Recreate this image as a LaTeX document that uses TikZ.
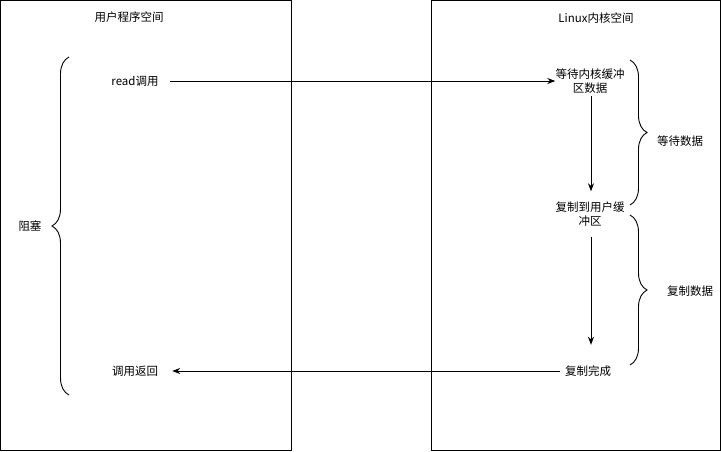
\documentclass[tikz,border=0pt]{standalone}
\usepackage{fontspec}
\setmainfont{Noto Sans CJK SC}
\usetikzlibrary{arrows.meta,decorations.pathreplacing}

\begin{document}
\begin{tikzpicture}[x=1pt,y=-1pt,
		label text/.style={font=\fontsize{11.5}{14}\selectfont, align=center, inner sep=0pt},
		flow/.style={line width=0.9pt, -{Stealth[length=8pt,width=6pt]}},
		curly/.style={line width=0.9pt, decorate, decoration={brace,amplitude=17pt}}]
			%%%%% START %%%%%
			
			\useasboundingbox (0, 0) rectangle (721, 451);
			
			\draw[line width=0.9pt] (0.5, 0.5) rectangle (291, 450);
			\draw[line width=0.9pt] (431, 0.5) rectangle (720.5, 450);
			
			\node[label text] (userspace) at (129, 17) {用户程序空间};
			\node[label text] (kernelspace) at (596, 18) {Linux内核空间};
			
			\node[label text, minimum width=70pt] (readcall) at (135, 81) {read调用};
			\node[label text, minimum height=30pt] (waitbuf) at (590, 81) {等待内核缓冲\\区数据};
			\node[label text, minimum height=45pt] (copybuf) at (590, 214) {复制到用户缓\\冲区};
			\node[label text, minimum height=52pt] (copydone) at (588, 371) {复制完成};
			\node[label text, minimum width=74pt] (callret) at (135, 371) {调用返回};
			
			\draw[flow] (readcall.east) -- (waitbuf.west);
			\draw[flow] (waitbuf.south -| 591, 0) -- (copybuf.north -| 591, 0);
			\draw[flow] (copybuf.south -| 591, 0) -- (copydone.north -| 591, 0);
			\draw[flow] ([xshift=-5pt]copydone.west) -- (callret.east);
			
			\coordinate (blocktop) at (69, 57);
			\coordinate (blockbot) at (69, 395);
			\draw[curly] (blockbot) -- (blocktop);
			\node[label text] (blocked) at (30, 226) {阻塞};
			
			\coordinate (waittop) at (630, 60);
			\coordinate (waitbot) at (630, 205);
			\draw[curly] (waittop) -- (waitbot);
			\node[label text] (waitdata) at (680, 141) {等待数据};
			
			\coordinate (copytop) at (630, 215);
			\coordinate (copybot) at (630, 365);
			\draw[curly] (copytop) -- (copybot);
			\node[label text] (copydata) at (690, 291) {复制数据};
			
			%%%%% END %%%%%
\end{tikzpicture}
\end{document}
